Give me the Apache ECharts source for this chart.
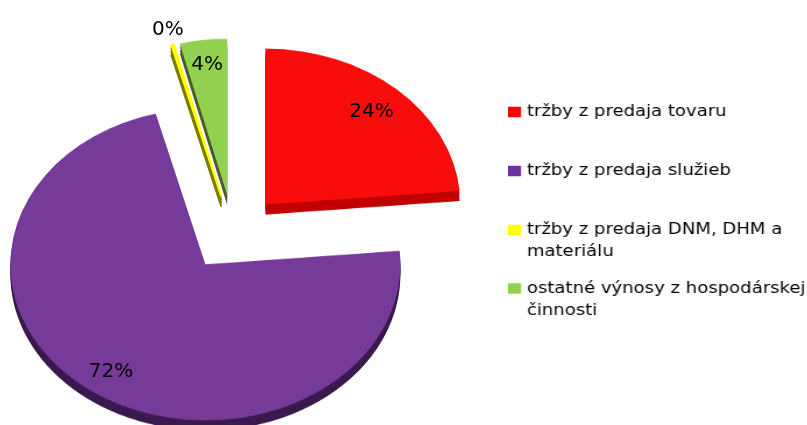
<!DOCTYPE html>
<html>
<head>
<meta charset="utf-8">
<script src="https://cdn.jsdelivr.net/npm/echarts@6/dist/echarts.min.js"></script>
<style>
html, body { margin: 0; padding: 0; width: 807px; height: 425px; overflow: hidden; background: #fff; }
/* pie is drawn round, then flattened to look tilted */
#pie { position: absolute; left: 0; top: -100px; width: 807px; height: 700px; transform: scaleY(0.8); transform-origin: 0 333px; }
#labels { position: absolute; left: 0; top: 0; width: 807px; height: 425px; }
/* legend text in the picture is stretched sideways */
#legend { position: absolute; left: 508px; top: 0; width: 258px; height: 425px; transform: scaleX(1.165); transform-origin: 0 0; }
</style>
</head>
<body>
<div id="pie"></div>
<div id="labels"></div>
<div id="legend"></div>
<script>
const categories = [
    'tržby z predaja tovaru',
    'tržby z predaja služieb',
    'tržby z predaja DNM, DHM a materiálu',
    'ostatné výnosy z hospodárskej činnosti'
];
const shares = [23.6, 72.3, 0.2, 3.9];

const topColors = ['#F80C0C', '#763A98', '#FFFF00', '#92D050'];
const sideColors = ['#C00000', '#3A1A4E', '#7F7A00', '#4A5E2C'];
const legendColors = ['#FF0000', '#7030A0', '#FFFF00', '#92D050'];
// legend text, wrapped like the original (leading blank line keeps the box on line one)
const legendText = {
    'tržby z predaja tovaru': 'tržby z predaja tovaru',
    'tržby z predaja služieb': 'tržby z predaja služieb',
    'tržby z predaja DNM, DHM a materiálu': '\ntržby z predaja DNM, DHM a\nmateriálu',
    'ostatné výnosy z hospodárskej činnosti': '\nostatné výnosy z hospodárskej\nčinnosti'
};
const legendTops = [101, 160, 197, 255.5];
// distance of each % label from the pie centre
const labelDist = [205, 212, 262, 212];

const CX = 233, CY = 233, R = 195, EXPLODE = 48, TILT = 0.8, DEPTH = 12.5;

function pieData(colors) {
    return categories.map(function (name, i) {
        let item = { name: name, value: shares[i], selected: true, itemStyle: { color: colors[i] } };
        // the near-zero slice still shows as a thin strip
        if (shares[i] < 1) {
            item.itemStyle.borderColor = colors[i];
            item.itemStyle.borderWidth = 2;
        }
        return item;
    });
}

let pieBase = {
    type: 'pie',
    radius: R,
    startAngle: 90,
    clockwise: true,
    selectedMode: 'multiple',
    selectedOffset: EXPLODE,
    silent: true,
    avoidLabelOverlap: false,
    label: { show: false },
    labelLine: { show: false },
    emphasis: { disabled: true },
    itemStyle: { borderWidth: 0 }
};

// top surface + a few darker copies underneath for the 3D side
let pieChart = echarts.init(document.getElementById('pie'));
let pieSeries = [];
[1, 2 / 3, 1 / 3].forEach(function (f) {
    pieSeries.push(Object.assign({}, pieBase, { center: [CX, CY + 100 + DEPTH * f], data: pieData(sideColors) }));
});
pieSeries.push(Object.assign({}, pieBase, { center: [CX, CY + 100], data: pieData(topColors) }));
pieChart.setOption({ animation: false, series: pieSeries });

// percentage labels, on a see-through pie with the same angles
let labelChart = echarts.init(document.getElementById('labels'));
labelChart.setOption({
    animation: false,
    series: [{
        type: 'pie',
        center: [CX, CY],
        radius: R,
        startAngle: 90,
        clockwise: true,
        silent: true,
        avoidLabelOverlap: false,
        itemStyle: { color: 'rgba(0,0,0,0)', borderWidth: 0 },
        labelLine: { show: false },
        label: {
            show: true,
            position: 'inside',
            color: '#000',
            fontFamily: 'DejaVu Sans',
            fontSize: 20,
            formatter: function (p) {
                return Math.round(p.percent) + '%';
            }
        },
        labelLayout: function (params) {
            let lay = labelChart.getModel().getSeriesByIndex(0).getData().getItemLayout(params.dataIndex);
            let mid = (lay.startAngle + lay.endAngle) / 2;
            let d = labelDist[params.dataIndex];
            return {
                x: lay.cx + Math.cos(mid) * d,
                y: lay.cy + Math.sin(mid) * d * TILT,
                align: 'center',
                verticalAlign: 'middle'
            };
        },
        data: categories.map(function (name, i) {
            return { name: name, value: shares[i] };
        })
    }]
});

// legend
let legendChart = echarts.init(document.getElementById('legend'));
legendChart.setOption({
    animation: false,
    legend: categories.map(function (name, i) {
        return {
            data: [{ name: name, itemStyle: { color: legendColors[i], borderWidth: 0 } }],
            left: 0,
            top: legendTops[i],
            padding: 0,
            icon: 'rect',
            itemWidth: 11.2,
            itemHeight: 10.5,
            selectedMode: false,
            formatter: function (n) {
                return legendText[n];
            },
            textStyle: { fontFamily: 'DejaVu Sans', fontSize: 15.5, lineHeight: 22, color: '#000' }
        };
    }),
    series: [{
        type: 'pie',
        center: [-500, -500],
        radius: 1,
        silent: true,
        label: { show: false },
        labelLine: { show: false },
        data: categories.map(function (name, i) {
            return { name: name, value: shares[i], itemStyle: { color: legendColors[i] } };
        })
    }]
});
</script>
</body>
</html>
